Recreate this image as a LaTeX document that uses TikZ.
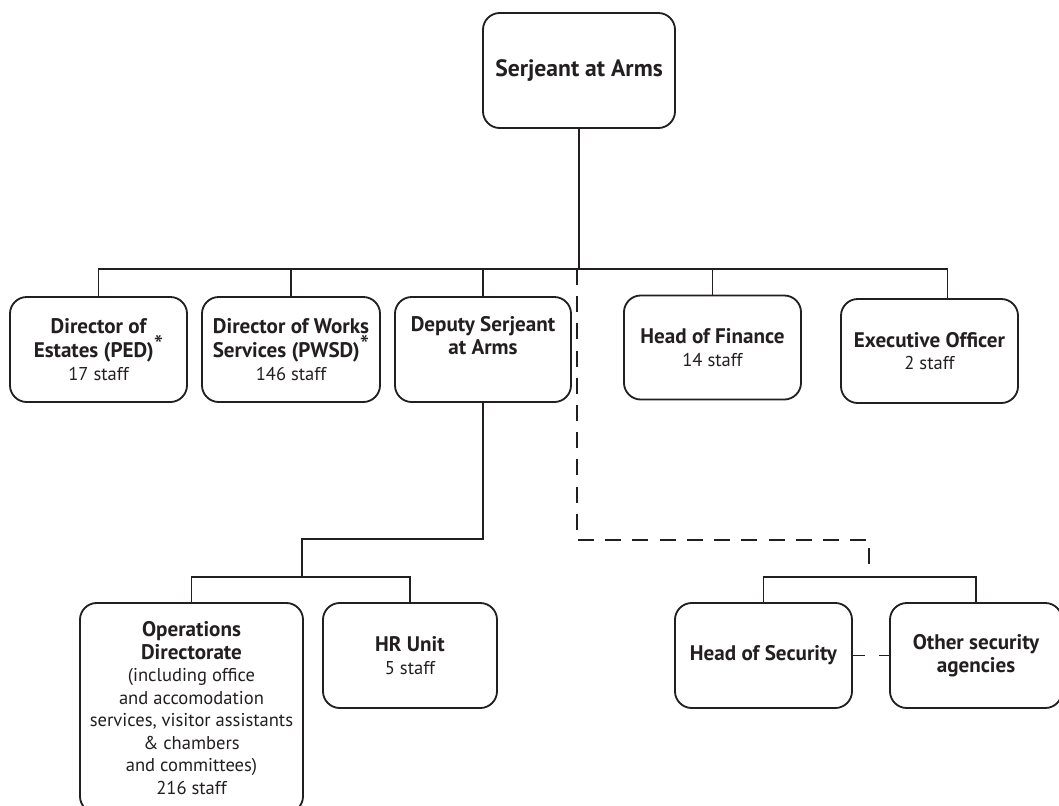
\documentclass[tikz,border=0pt]{standalone}
\usepackage{fontspec}
\setmainfont{PT Sans}
\definecolor{chartink}{HTML}{231F20}
\newcommand\posthead[1]{{\fontsize{15}{16}\selectfont\bfseries #1}}
\newcommand\poststar{\raisebox{0.35ex}{\fontsize{19}{16}\selectfont*}}

\begin{document}
\begin{tikzpicture}[x=0.025cm, y=-0.025cm, font=\fontsize{13.2}{16}\selectfont,
    post/.style={draw=chartink, text=chartink, line width=1.3pt,
      rounded corners=0.42cm, align=center, inner sep=2pt},
    link/.style={draw=chartink, line width=1.3pt},
    loose/.style={link, dash pattern=on 0.4cm off 0.28cm}]
    \useasboundingbox[fill=white] (0,0) rectangle (1059,805);
    %% --- Top post ---
    \node[post, minimum width=4.8cm, minimum height=2.875cm] (sa) at (579,70.5)
      {{\fontsize{16.8}{18}\selectfont\bfseries Serjeant at Arms}};
    %% --- Second row ---
    \node[post, minimum width=4.425cm, minimum height=2.625cm] (dest) at (98.5,349.5)
      {\posthead{Director of}\\\posthead{Estates (PED)}\poststar\\17 staff};
    \node[post, minimum width=4.45cm, minimum height=2.625cm] (dworks) at (291,349.5)
      {\posthead{Director of Works}\\\posthead{Services (PWSD)}\poststar\\146 staff};
    \node[post, minimum width=4.4cm, minimum height=2.625cm] (deputy) at (483,349.5)
      {\posthead{Deputy Serjeant}\\\posthead{at Arms}\\[4pt]\mbox{}};
    \node[post, minimum width=4.425cm, minimum height=2.6cm] (finance) at (712.5,347.5)
      {\posthead{Head of Finance}\\14 staff};
    \node[post, minimum width=4.425cm, minimum height=2.6cm] (exec) at (929.5,351)
      {\posthead{Executive Officer}\\2 staff};
    %% --- Under the deputy ---
    \node[post, minimum width=5.575cm, minimum height=5.25cm] (ops) at (191.5,708)
      {\posthead{Operations}\\\posthead{Directorate}\\(including office\\and accomodation\\
       services, visitor assistants\\\&\ chambers\\and committees)\\216 staff};
    \node[post, minimum width=4.35cm, minimum height=2.625cm] (hr) at (410,655.5)
      {\posthead{HR Unit}\\5 staff};
    %% --- Security ---
    \node[post, minimum width=4.425cm, minimum height=2.625cm] (hos) at (763.5,655.5)
      {\posthead{Head of Security}};
    \node[post, minimum width=4.3cm, minimum height=2.625cm] (other) at (976,655.5)
      {\posthead{Other security}\\\posthead{agencies}};
    %% --- Junctions ---
    \coordinate (hub) at (577,269);
    \coordinate (opsbend) at (302,539);
    \coordinate (opsbar) at (302,577);
    \coordinate (secbend) at (869,540);
    \coordinate (secbar) at (869,577);
    %% --- Solid connectors ---
    \draw[link] (sa.south) -- (sa.south |- hub);
    \draw[link] (dest.north) -- (dest.north |- hub)
      -- ([xshift=0.45cm]exec.north |- hub) -- ([xshift=0.45cm]exec.north);
    \foreach \n in {dworks, deputy, finance} {
      \draw[link] (\n.north) -- (\n.north |- hub);
    }
    \draw[link] (deputy.south) |- (opsbend) -- (opsbar);
    \draw[link] (ops.north) -- (ops.north |- opsbar)
      -- (hr.north |- opsbar) -- (hr.north);
    \draw[link] (hos.north) -- (hos.north |- secbar)
      -- (other.north |- secbar) -- (other.north);
    %% --- Dashed connectors ---
    \draw[loose] (hub) |- (secbend) -- (secbar);
    \draw[link, dash pattern=on 0.3cm off 0.35cm] (hos.east) -- (other.west);
\end{tikzpicture}
\end{document}
